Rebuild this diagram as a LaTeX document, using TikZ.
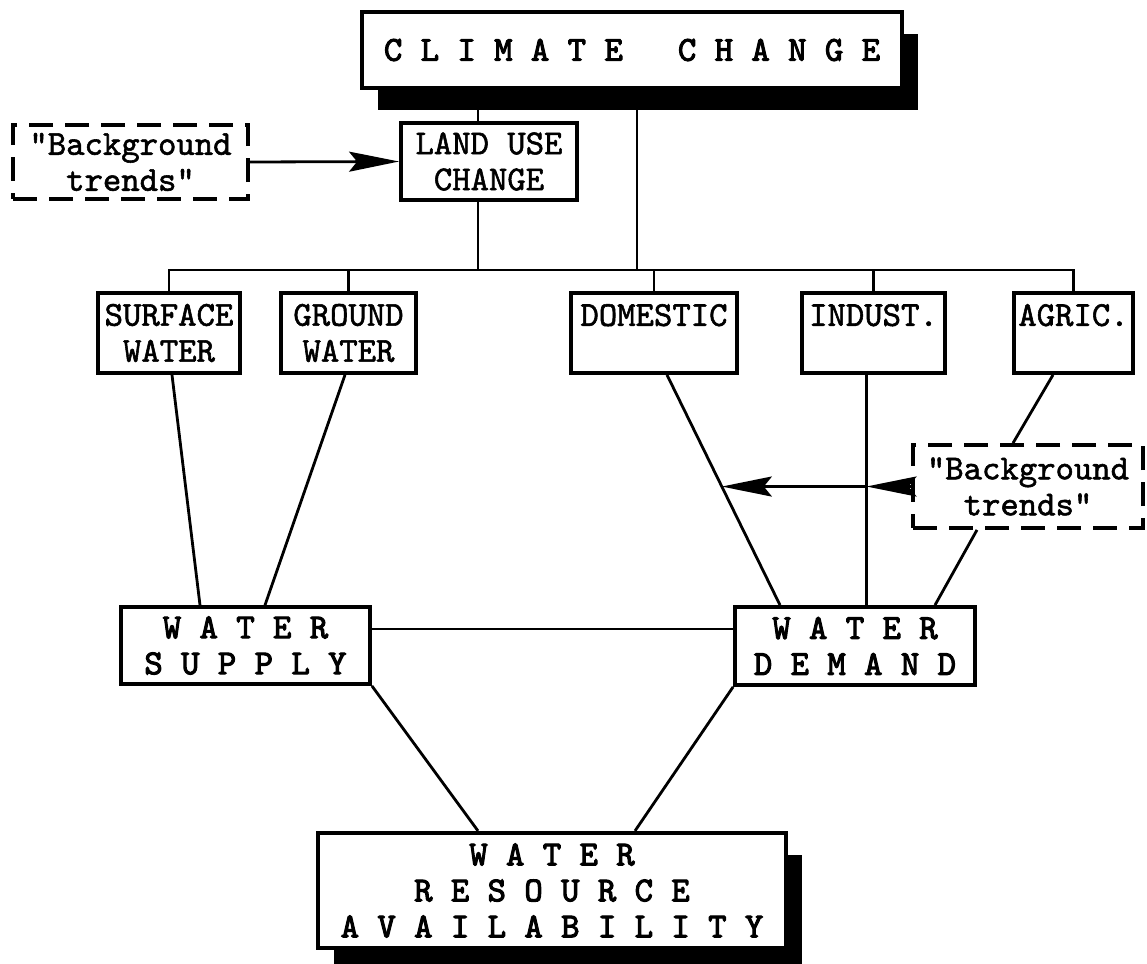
\documentclass[tikz,border=0pt]{standalone}
\usepackage{fontspec}
\newfontfamily\typew{lmmono10-regular.otf}[FakeBold=1.6]
\newfontfamily\typewbig{lmmono10-regular.otf}[FakeBold=3]
\usetikzlibrary{arrows.meta,calc,shadows}

\begin{document}
\begin{tikzpicture}[x=0.5pt,y=-0.5pt,
  box/.style={draw,line width=1.9pt,inner sep=0pt,align=center,
    font=\typew\fontsize{17.5}{18}\selectfont},
  bigbox/.style={box,fill=white,line width=2.1pt,font=\typewbig\fontsize{17.5}{18}\selectfont,
    drop shadow={shadow xshift=8pt,shadow yshift=-11pt,opacity=1,fill=black}},
  midbox/.style={box,font=\typewbig\fontsize{17.5}{18}\selectfont},
  trendbox/.style={box,dash pattern=on 12pt off 6pt},
  link/.style={line width=1.4pt},
  push/.style={link,-{Stealth[length=25pt,width=10pt,inset=4pt]}}]
  \useasboundingbox (0,0) rectangle (1147,964);

  % top of the chain
  \node[bigbox,minimum width=270pt,minimum height=38pt] (cc) at (632,50) {C L I M A T E~~~C H A N G E};
  \node[box,minimum width=88pt,minimum height=38.5pt] (lu) at (489,161.5) {LAND USE\\CHANGE};
  \node[trendbox,minimum width=117.5pt,minimum height=37pt] (bt1) at (130.5,162) {"Background\\trends"};

  % sources and uses
  \node[box,minimum width=71pt,minimum height=40pt] (sw) at (169,333) {SURFACE\\WATER};
  \node[box,minimum width=67.5pt,minimum height=40pt] (gw) at (348.5,333) {GROUND\\WATER};
  \node[box,minimum width=83pt,minimum height=40pt] (dom) at (654,333) {DOMESTIC\\~};
  \node[box,minimum width=71.5pt,minimum height=40pt] (ind) at (873.5,333) {INDUST.\\~};
  \node[box,minimum width=59.5pt,minimum height=40pt] (agr) at (1073.5,333) {AGRIC.\\~};
  \node[trendbox,minimum width=115pt,minimum height=41.5pt] (bt2) at (1028,486.5) {"Background\\trends"};

  % supply, demand, result
  \node[midbox,minimum width=124.5pt,minimum height=38.5pt] (ws) at (245.5,645.5) {W A T E R\\S U P P L Y};
  \node[midbox,minimum width=120pt,minimum height=39pt] (wd) at (855,646) {W A T E R\\D E M A N D};
  \node[bigbox,minimum width=234pt,minimum height=57.5pt] (wra) at (552,890.5) {W A T E R\\R E S O U R C E\\A V A I L A B I L I T Y};

  \coordinate (bus) at (0,270);
  \draw[link] ([xshift=2.5pt]cc.south) -- ([xshift=2.5pt]cc.south |- bus);
  \draw[link] ([xshift=-5.5pt]lu.north) -- ([xshift=-5.5pt]lu.north |- cc.south);
  \draw[link] ([xshift=-5.5pt]lu.south) -- ([xshift=-5.5pt]lu.south |- bus);
  \draw[link] (sw.north) -- (sw.north |- bus) -- (agr.north |- bus) -- (agr.north);
  \foreach \n in {gw,dom,ind}
    \draw[link] (\n.north) -- (\n.north |- bus);
  \draw[push] (bt1.east) -- (lu.west);

  \draw[link] ([xshift=1.5pt]sw.south) -- ([xshift=-22.75pt]ws.north);
  \draw[link] ([xshift=-1.75pt]gw.south) -- ([xshift=9.75pt]ws.north);
  \coordinate (dtop) at ([xshift=6.5pt]dom.south);
  \coordinate (dbot) at ([xshift=-37.5pt]wd.north);
  \draw[link] (dtop) -- (dbot);
  \coordinate (indx) at ([xshift=-3.5pt]ind.south);
  \draw[link] (indx) -- (indx |- wd.north);
  \draw[link] ([xshift=-10.25pt]agr.south) -- ([xshift=-7.5pt]bt2.north);
  \draw[link] ([xshift=-25.5pt]bt2.south) -- ([xshift=40pt]wd.north);
  \draw[push] (bt2.west) -- (bt2.west -| indx);
  \draw[push] (bt2.west -| indx) -- ($(dtop)!0.485!(dbot)$);

  \draw[link] ([yshift=8.25pt]ws.east) -- ([yshift=8.25pt]ws.east -| wd.west);
  \draw[link] (ws.south east) -- ([xshift=-37pt]wra.north);
  \draw[link] (wd.south west) -- ([xshift=41.5pt]wra.north);
\end{tikzpicture}
\end{document}
